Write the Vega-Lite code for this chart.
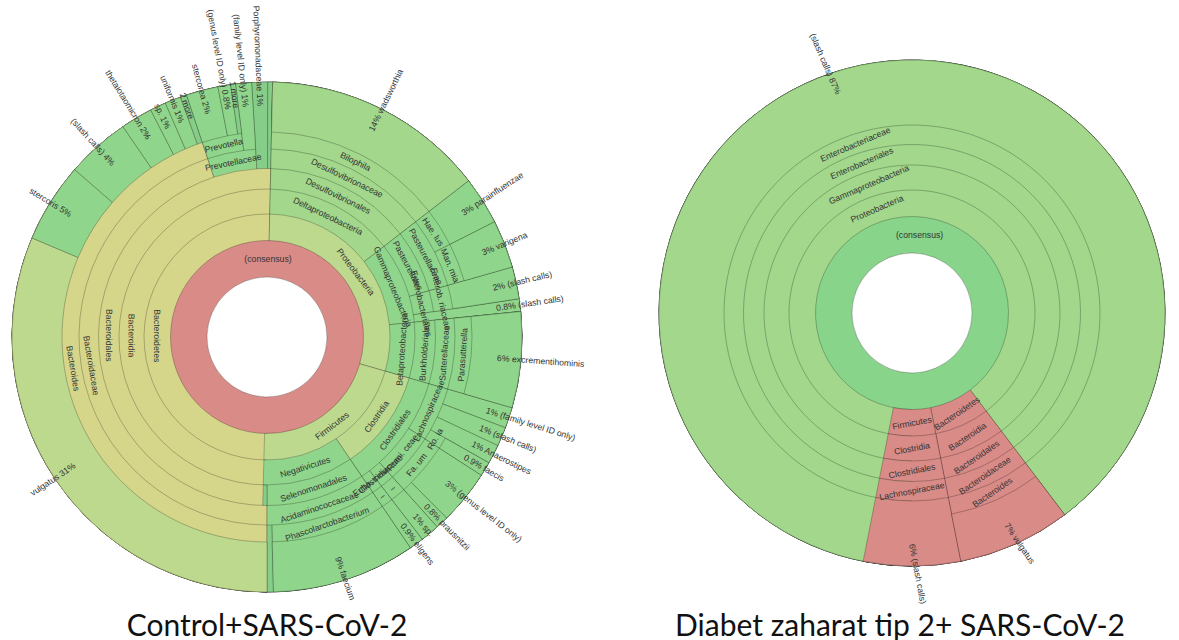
{
  "$schema": "https://vega.github.io/schema/vega-lite/v6.json",
  "background": "white",
  "padding": 0,
  "bounds": "flush",
  "spacing": 118,
  "config": {"view": {"stroke": null}},
  "datasets": {
    "ctrl": [
      {"o": 1, "d": 0, "leaf": false, "v": 99.3, "n": "(consensus)", "p": "", "k": "r"},
      {"o": 2, "d": 1, "leaf": false, "v": 49.8, "n": "Bacteroidetes", "p": "", "k": "y"},
      {"o": 3, "d": 2, "leaf": false, "v": 49.8, "n": "Bacteroidia", "p": "", "k": "y"},
      {"o": 4, "d": 3, "leaf": false, "v": 49.8, "n": "Bacteroidales", "p": "", "k": "y"},
      {"o": 5, "d": 4, "leaf": false, "v": 44.4, "n": "Bacteroidaceae", "p": "", "k": "y"},
      {"o": 6, "d": 5, "leaf": false, "v": 44.4, "n": "Bacteroides", "p": "", "k": "y"},
      {"o": 7, "d": 6, "leaf": true, "v": 31, "n": "vulgatus", "p": "31%", "k": "yg"},
      {"o": 8, "d": 6, "leaf": true, "v": 5, "n": "stercoris", "p": "5%", "k": "g"},
      {"o": 9, "d": 6, "leaf": true, "v": 4, "n": "(slash calls)", "p": "4%", "k": "g"},
      {"o": 10, "d": 6, "leaf": true, "v": 2, "n": "thetaiotaomicron", "p": "2%", "k": "g"},
      {"o": 11, "d": 6, "leaf": true, "v": 1, "n": "sp.", "p": "1%", "k": "g"},
      {"o": 12, "d": 6, "leaf": true, "v": 1, "n": "uniformis", "p": "1%", "k": "g"},
      {"o": 13, "d": 6, "leaf": true, "v": 0.4, "n": "2 more", "p": "", "k": "h"},
      {"o": 14, "d": 4, "leaf": false, "v": 4.1, "n": "Prevotellaceae", "p": "", "k": "g"},
      {"o": 15, "d": 5, "leaf": false, "v": 3.1, "n": "Prevotella", "p": "", "k": "g"},
      {"o": 16, "d": 6, "leaf": true, "v": 2, "n": "stercorea", "p": "2%", "k": "g"},
      {"o": 17, "d": 6, "leaf": true, "v": 0.8, "n": "(genus level ID only)", "p": "0.8%", "k": "g"},
      {"o": 18, "d": 6, "leaf": true, "v": 0.3, "n": "1 more", "p": "", "k": "h"},
      {"o": 19, "d": 5, "leaf": true, "v": 1, "n": "(family level ID only)", "p": "1%", "k": "g"},
      {"o": 20, "d": 4, "leaf": true, "v": 1, "n": "Porphyromonadaceae", "p": "1%", "k": "h"},
      {"o": 21, "d": 4, "leaf": true, "v": 0.3, "n": "", "p": "", "k": "h"},
      {"o": 22, "d": 1, "leaf": false, "v": 28.8, "n": "Proteobacteria", "p": "", "k": "yg"},
      {"o": 23, "d": 2, "leaf": false, "v": 14, "n": "Deltaproteobacteria", "p": "", "k": "lg"},
      {"o": 24, "d": 3, "leaf": false, "v": 14, "n": "Desulfovibrionales", "p": "", "k": "lg"},
      {"o": 25, "d": 4, "leaf": false, "v": 14, "n": "Desulfovibrionaceae", "p": "", "k": "lg"},
      {"o": 26, "d": 5, "leaf": false, "v": 14, "n": "Bilophila", "p": "", "k": "lg"},
      {"o": 27, "d": 6, "leaf": true, "v": 14, "n": "wadsworthia", "p": "14%", "k": "lg"},
      {"o": 28, "d": 2, "leaf": false, "v": 8.8, "n": "Gammaproteobacteria", "p": "", "k": "g"},
      {"o": 29, "d": 3, "leaf": false, "v": 6, "n": "Pasteurellales", "p": "", "k": "g"},
      {"o": 30, "d": 4, "leaf": false, "v": 6, "n": "Pasteurellaceae", "p": "", "k": "g"},
      {"o": 31, "d": 5, "leaf": false, "v": 3, "n": "Hae. lus", "p": "", "k": "g"},
      {"o": 32, "d": 6, "leaf": true, "v": 3, "n": "parainfluenzae", "p": "3%", "k": "g"},
      {"o": 33, "d": 5, "leaf": false, "v": 3, "n": "Man. mia", "p": "", "k": "g"},
      {"o": 34, "d": 6, "leaf": true, "v": 3, "n": "varigena", "p": "3%", "k": "g"},
      {"o": 35, "d": 3, "leaf": false, "v": 2, "n": "Enterobacteriales", "p": "", "k": "g"},
      {"o": 36, "d": 4, "leaf": false, "v": 2, "n": "Enterob. riaceae", "p": "", "k": "g"},
      {"o": 37, "d": 5, "leaf": true, "v": 2, "n": "(slash calls)", "p": "2%", "k": "g"},
      {"o": 38, "d": 3, "leaf": true, "v": 0.8, "n": "(slash calls)", "p": "0.8%", "k": "g"},
      {"o": 39, "d": 2, "leaf": false, "v": 6, "n": "Betaproteobacteria", "p": "", "k": "g"},
      {"o": 40, "d": 3, "leaf": false, "v": 6, "n": "Burkholderiales", "p": "", "k": "g"},
      {"o": 41, "d": 4, "leaf": false, "v": 6, "n": "Sutterellaceae", "p": "", "k": "g"},
      {"o": 42, "d": 5, "leaf": false, "v": 6, "n": "Parasutterella", "p": "", "k": "g"},
      {"o": 43, "d": 6, "leaf": true, "v": 6, "n": "excrementihominis", "p": "6%", "k": "g"},
      {"o": 44, "d": 1, "leaf": false, "v": 20.7, "n": "Firmicutes", "p": "", "k": "yg"},
      {"o": 45, "d": 2, "leaf": false, "v": 10.9, "n": "Clostridia", "p": "", "k": "yg"},
      {"o": 46, "d": 3, "leaf": false, "v": 10.9, "n": "Clostridiales", "p": "", "k": "g"},
      {"o": 47, "d": 4, "leaf": false, "v": 4.6, "n": "Lachnospiraceae", "p": "", "k": "g"},
      {"o": 48, "d": 5, "leaf": true, "v": 1.3, "n": "(family level ID only)", "p": "1%", "k": "g"},
      {"o": 49, "d": 5, "leaf": true, "v": 1.2, "n": "(slash calls)", "p": "1%", "k": "g"},
      {"o": 50, "d": 5, "leaf": true, "v": 1.2, "n": "Anaerostipes", "p": "1%", "k": "g"},
      {"o": 51, "d": 5, "leaf": false, "v": 0.9, "n": "Ro. ia", "p": "", "k": "g"},
      {"o": 52, "d": 6, "leaf": true, "v": 0.9, "n": "faecis", "p": "0.9%", "k": "g"},
      {"o": 53, "d": 4, "leaf": false, "v": 4.2, "n": "Rumi. ceae", "p": "", "k": "g"},
      {"o": 54, "d": 5, "leaf": false, "v": 4.2, "n": "Fa. um", "p": "", "k": "g"},
      {"o": 55, "d": 6, "leaf": true, "v": 3.4, "n": "(genus level ID only)", "p": "3%", "k": "g"},
      {"o": 56, "d": 6, "leaf": true, "v": 0.8, "n": "prausnitzii", "p": "0.8%", "k": "g"},
      {"o": 57, "d": 4, "leaf": false, "v": 1.2, "n": "Clostridiaceae", "p": "", "k": "g"},
      {"o": 58, "d": 5, "leaf": false, "v": 1.2, "n": "–", "p": "", "k": "g"},
      {"o": 59, "d": 6, "leaf": true, "v": 1.2, "n": "sp.", "p": "1%", "k": "g"},
      {"o": 60, "d": 4, "leaf": false, "v": 0.9, "n": "Euba. ceae", "p": "", "k": "g"},
      {"o": 61, "d": 5, "leaf": false, "v": 0.9, "n": "–", "p": "", "k": "g"},
      {"o": 62, "d": 6, "leaf": true, "v": 0.9, "n": "eligens", "p": "0.9%", "k": "g"},
      {"o": 63, "d": 2, "leaf": false, "v": 9.8, "n": "Negativicutes", "p": "", "k": "g"},
      {"o": 64, "d": 3, "leaf": false, "v": 9.4, "n": "Selenomonadales", "p": "", "k": "g"},
      {"o": 65, "d": 4, "leaf": false, "v": 9.4, "n": "Acidaminococcaceae", "p": "", "k": "g"},
      {"o": 66, "d": 5, "leaf": false, "v": 9, "n": "Phascolarctobacterium", "p": "", "k": "g"},
      {"o": 67, "d": 6, "leaf": true, "v": 9, "n": "faecium", "p": "9%", "k": "g"},
      {"o": 68, "d": 5, "leaf": true, "v": 0.4, "n": "", "p": "", "k": "h"},
      {"o": 69, "d": 3, "leaf": true, "v": 0.4, "n": "", "p": "", "k": "h"}
    ],
    "diab": [
      {"o": 1, "d": 0, "leaf": false, "v": 100, "n": "(consensus)", "p": "", "k": "g2"},
      {"o": 2, "d": 1, "leaf": false, "v": 87, "n": "Proteobacteria", "p": "", "k": "lg"},
      {"o": 3, "d": 2, "leaf": false, "v": 87, "n": "Gammaproteobacteria", "p": "", "k": "lg"},
      {"o": 4, "d": 3, "leaf": false, "v": 87, "n": "Enterobacteriales", "p": "", "k": "lg"},
      {"o": 5, "d": 4, "leaf": false, "v": 87, "n": "Enterobacteriaceae", "p": "", "k": "lg"},
      {"o": 6, "d": 5, "leaf": true, "v": 87, "n": "(slash calls)", "p": "87%", "k": "lg"},
      {"o": 7, "d": 1, "leaf": false, "v": 7, "n": "Bacteroidetes", "p": "", "k": "r"},
      {"o": 8, "d": 2, "leaf": false, "v": 7, "n": "Bacteroidia", "p": "", "k": "r"},
      {"o": 9, "d": 3, "leaf": false, "v": 7, "n": "Bacteroidales", "p": "", "k": "r"},
      {"o": 10, "d": 4, "leaf": false, "v": 7, "n": "Bacteroidaceae", "p": "", "k": "r"},
      {"o": 11, "d": 5, "leaf": false, "v": 7, "n": "Bacteroides", "p": "", "k": "r"},
      {"o": 12, "d": 6, "leaf": true, "v": 7, "n": "vulgatus", "p": "7%", "k": "r"},
      {"o": 13, "d": 1, "leaf": false, "v": 6, "n": "Firmicutes", "p": "", "k": "r"},
      {"o": 14, "d": 2, "leaf": false, "v": 6, "n": "Clostridia", "p": "", "k": "r"},
      {"o": 15, "d": 3, "leaf": false, "v": 6, "n": "Clostridiales", "p": "", "k": "r"},
      {"o": 16, "d": 4, "leaf": false, "v": 6, "n": "Lachnospiraceae", "p": "", "k": "r"},
      {"o": 17, "d": 5, "leaf": true, "v": 6, "n": "(slash calls)", "p": "6%", "k": "r"}
    ]
  },
  "hconcat": [
    {
      "width": 534,
      "height": 644,
      "data": {"name": "ctrl"},
      "title": {"text": "Control+SARS-CoV-2", "orient": "bottom", "anchor": "middle", "offset": -23, "baseline": "alphabetic", "font": "Lato", "fontSize": 30, "fontWeight": "normal", "color": "#111111"},
      "layer": [
        {"transform": [{"filter": "datum.d == 0"}, {"stack": "v", "groupby": [], "sort": [{"field": "o"}], "as": ["t0", "t1"]}],
         "mark": {"type": "arc", "innerRadius": 60, "outerRadius": 255, "stroke": "#000000", "strokeWidth": 0.8},
         "encoding": {"theta": {"field": "t0", "type": "quantitative", "stack": null, "scale": {"range": [3.14159265, 9.42477796], "nice": false}}, "theta2": {"field": "t1"},
           "fill": {"field": "k", "type": "nominal", "legend": null, "scale": {"domain": ["r", "y", "yg", "lg", "g", "g2", "h"], "range": ["#d98b87", "#d6d68b", "#bcd98e", "#a2d78c", "#8fd58b", "#87d48a", "#86cd89"]}},
           "fillOpacity": {"condition": {"test": "datum.d == 0", "value": 1}, "value": 0},
           "strokeOpacity": {"condition": {"test": "datum.d == 0", "value": 0.3}, "value": 0}}},
        {"transform": [{"filter": "datum.d == 1 || (datum.leaf && datum.d < 1)"}, {"stack": "v", "groupby": [], "sort": [{"field": "o"}], "as": ["t0", "t1"]}],
         "mark": {"type": "arc", "innerRadius": 96.5, "outerRadius": 255, "stroke": "#000000", "strokeWidth": 0.8},
         "encoding": {"theta": {"field": "t0", "type": "quantitative", "stack": null, "scale": {"range": [3.14159265, 9.42477796], "nice": false}}, "theta2": {"field": "t1"},
           "fill": {"field": "k", "type": "nominal", "legend": null, "scale": {"domain": ["r", "y", "yg", "lg", "g", "g2", "h"], "range": ["#d98b87", "#d6d68b", "#bcd98e", "#a2d78c", "#8fd58b", "#87d48a", "#86cd89"]}},
           "fillOpacity": {"condition": {"test": "datum.d == 1", "value": 1}, "value": 0},
           "strokeOpacity": {"condition": {"test": "datum.d == 1", "value": 0.3}, "value": 0}}},
        {"transform": [{"filter": "datum.d == 2 || (datum.leaf && datum.d < 2)"}, {"stack": "v", "groupby": [], "sort": [{"field": "o"}], "as": ["t0", "t1"]}],
         "mark": {"type": "arc", "innerRadius": 123, "outerRadius": 255, "stroke": "#000000", "strokeWidth": 0.8},
         "encoding": {"theta": {"field": "t0", "type": "quantitative", "stack": null, "scale": {"range": [3.14159265, 9.42477796], "nice": false}}, "theta2": {"field": "t1"},
           "fill": {"field": "k", "type": "nominal", "legend": null, "scale": {"domain": ["r", "y", "yg", "lg", "g", "g2", "h"], "range": ["#d98b87", "#d6d68b", "#bcd98e", "#a2d78c", "#8fd58b", "#87d48a", "#86cd89"]}},
           "fillOpacity": {"condition": {"test": "datum.d == 2", "value": 1}, "value": 0},
           "strokeOpacity": {"condition": {"test": "datum.d == 2", "value": 0.3}, "value": 0}}},
        {"transform": [{"filter": "datum.d == 3 || (datum.leaf && datum.d < 3)"}, {"stack": "v", "groupby": [], "sort": [{"field": "o"}], "as": ["t0", "t1"]}],
         "mark": {"type": "arc", "innerRadius": 148, "outerRadius": 255, "stroke": "#000000", "strokeWidth": 0.8},
         "encoding": {"theta": {"field": "t0", "type": "quantitative", "stack": null, "scale": {"range": [3.14159265, 9.42477796], "nice": false}}, "theta2": {"field": "t1"},
           "fill": {"field": "k", "type": "nominal", "legend": null, "scale": {"domain": ["r", "y", "yg", "lg", "g", "g2", "h"], "range": ["#d98b87", "#d6d68b", "#bcd98e", "#a2d78c", "#8fd58b", "#87d48a", "#86cd89"]}},
           "fillOpacity": {"condition": {"test": "datum.d == 3", "value": 1}, "value": 0},
           "strokeOpacity": {"condition": {"test": "datum.d == 3", "value": 0.3}, "value": 0}}},
        {"transform": [{"filter": "datum.d == 4 || (datum.leaf && datum.d < 4)"}, {"stack": "v", "groupby": [], "sort": [{"field": "o"}], "as": ["t0", "t1"]}],
         "mark": {"type": "arc", "innerRadius": 168.5, "outerRadius": 255, "stroke": "#000000", "strokeWidth": 0.8},
         "encoding": {"theta": {"field": "t0", "type": "quantitative", "stack": null, "scale": {"range": [3.14159265, 9.42477796], "nice": false}}, "theta2": {"field": "t1"},
           "fill": {"field": "k", "type": "nominal", "legend": null, "scale": {"domain": ["r", "y", "yg", "lg", "g", "g2", "h"], "range": ["#d98b87", "#d6d68b", "#bcd98e", "#a2d78c", "#8fd58b", "#87d48a", "#86cd89"]}},
           "fillOpacity": {"condition": {"test": "datum.d == 4", "value": 1}, "value": 0},
           "strokeOpacity": {"condition": {"test": "datum.d == 4", "value": 0.3}, "value": 0}}},
        {"transform": [{"filter": "datum.d == 5 || (datum.leaf && datum.d < 5)"}, {"stack": "v", "groupby": [], "sort": [{"field": "o"}], "as": ["t0", "t1"]}],
         "mark": {"type": "arc", "innerRadius": 188, "outerRadius": 255, "stroke": "#000000", "strokeWidth": 0.8},
         "encoding": {"theta": {"field": "t0", "type": "quantitative", "stack": null, "scale": {"range": [3.14159265, 9.42477796], "nice": false}}, "theta2": {"field": "t1"},
           "fill": {"field": "k", "type": "nominal", "legend": null, "scale": {"domain": ["r", "y", "yg", "lg", "g", "g2", "h"], "range": ["#d98b87", "#d6d68b", "#bcd98e", "#a2d78c", "#8fd58b", "#87d48a", "#86cd89"]}},
           "fillOpacity": {"condition": {"test": "datum.d == 5", "value": 1}, "value": 0},
           "strokeOpacity": {"condition": {"test": "datum.d == 5", "value": 0.3}, "value": 0}}},
        {"transform": [{"filter": "datum.d == 6 || (datum.leaf && datum.d < 6)"}, {"stack": "v", "groupby": [], "sort": [{"field": "o"}], "as": ["t0", "t1"]}],
         "mark": {"type": "arc", "innerRadius": 205, "outerRadius": 255, "stroke": "#000000", "strokeWidth": 0.8},
         "encoding": {"theta": {"field": "t0", "type": "quantitative", "stack": null, "scale": {"range": [3.14159265, 9.42477796], "nice": false}}, "theta2": {"field": "t1"},
           "fill": {"field": "k", "type": "nominal", "legend": null, "scale": {"domain": ["r", "y", "yg", "lg", "g", "g2", "h"], "range": ["#d98b87", "#d6d68b", "#bcd98e", "#a2d78c", "#8fd58b", "#87d48a", "#86cd89"]}},
           "fillOpacity": {"condition": {"test": "datum.d == 6", "value": 1}, "value": 0},
           "strokeOpacity": {"condition": {"test": "datum.d == 6", "value": 0.3}, "value": 0}}},
        {"transform": [{"filter": "datum.d == 0"}, {"stack": "v", "groupby": [], "sort": [{"field": "o"}], "as": ["t0", "t1"]}, {"joinaggregate": [{"op": "sum", "field": "v", "as": "tot"}]}, {"filter": "!datum.leaf"}, {"calculate": "(datum.t0 + datum.t1) / 2", "as": "tm"}, {"calculate": "(180 + 360 * datum.tm / datum.tot) % 360", "as": "deg"}, {"calculate": "datum.deg >= 90 && datum.deg <= 271 ? datum.deg - 180 : datum.deg", "as": "ang"}],
         "mark": {"type": "text", "radius": 78, "font": "Liberation Sans", "fontSize": 8.7, "fill": "#333333", "align": "center", "baseline": "middle"},
         "encoding": {"theta": {"field": "tm", "type": "quantitative", "scale": {"range": [3.14159265, 9.42477796], "nice": false}}, "text": {"field": "n"}, "angle": {"field": "ang", "type": "quantitative", "scale": {"domain": [-360, 360], "range": [-360, 360]}}}},
        {"transform": [{"filter": "datum.d == 1 || (datum.leaf && datum.d < 1)"}, {"stack": "v", "groupby": [], "sort": [{"field": "o"}], "as": ["t0", "t1"]}, {"joinaggregate": [{"op": "sum", "field": "v", "as": "tot"}]}, {"filter": "datum.d == 1 && !datum.leaf"}, {"calculate": "(datum.t0 + datum.t1) / 2", "as": "tm"}, {"calculate": "(180 + 360 * datum.tm / datum.tot) % 360", "as": "deg"}, {"calculate": "datum.deg >= 90 && datum.deg <= 271 ? datum.deg - 180 : datum.deg", "as": "ang"}],
         "mark": {"type": "text", "radius": 110, "font": "Liberation Sans", "fontSize": 8.7, "fill": "#333333", "align": "center", "baseline": "middle"},
         "encoding": {"theta": {"field": "tm", "type": "quantitative", "scale": {"range": [3.14159265, 9.42477796], "nice": false}}, "text": {"field": "n"}, "angle": {"field": "ang", "type": "quantitative", "scale": {"domain": [-360, 360], "range": [-360, 360]}}}},
        {"transform": [{"filter": "datum.d == 2 || (datum.leaf && datum.d < 2)"}, {"stack": "v", "groupby": [], "sort": [{"field": "o"}], "as": ["t0", "t1"]}, {"joinaggregate": [{"op": "sum", "field": "v", "as": "tot"}]}, {"filter": "datum.d == 2 && !datum.leaf"}, {"calculate": "(datum.t0 + datum.t1) / 2", "as": "tm"}, {"calculate": "(180 + 360 * datum.tm / datum.tot) % 360", "as": "deg"}, {"calculate": "datum.deg >= 90 && datum.deg <= 271 ? datum.deg - 180 : datum.deg", "as": "ang"}],
         "mark": {"type": "text", "radius": 135.5, "font": "Liberation Sans", "fontSize": 8.7, "fill": "#333333", "align": "center", "baseline": "middle"},
         "encoding": {"theta": {"field": "tm", "type": "quantitative", "scale": {"range": [3.14159265, 9.42477796], "nice": false}}, "text": {"field": "n"}, "angle": {"field": "ang", "type": "quantitative", "scale": {"domain": [-360, 360], "range": [-360, 360]}}}},
        {"transform": [{"filter": "datum.d == 3 || (datum.leaf && datum.d < 3)"}, {"stack": "v", "groupby": [], "sort": [{"field": "o"}], "as": ["t0", "t1"]}, {"joinaggregate": [{"op": "sum", "field": "v", "as": "tot"}]}, {"filter": "datum.d == 3 && !datum.leaf"}, {"calculate": "(datum.t0 + datum.t1) / 2", "as": "tm"}, {"calculate": "(180 + 360 * datum.tm / datum.tot) % 360", "as": "deg"}, {"calculate": "datum.deg >= 90 && datum.deg <= 271 ? datum.deg - 180 : datum.deg", "as": "ang"}],
         "mark": {"type": "text", "radius": 158, "font": "Liberation Sans", "fontSize": 8.7, "fill": "#333333", "align": "center", "baseline": "middle"},
         "encoding": {"theta": {"field": "tm", "type": "quantitative", "scale": {"range": [3.14159265, 9.42477796], "nice": false}}, "text": {"field": "n"}, "angle": {"field": "ang", "type": "quantitative", "scale": {"domain": [-360, 360], "range": [-360, 360]}}}},
        {"transform": [{"filter": "datum.d == 4 || (datum.leaf && datum.d < 4)"}, {"stack": "v", "groupby": [], "sort": [{"field": "o"}], "as": ["t0", "t1"]}, {"joinaggregate": [{"op": "sum", "field": "v", "as": "tot"}]}, {"filter": "datum.d == 4 && !datum.leaf"}, {"calculate": "(datum.t0 + datum.t1) / 2", "as": "tm"}, {"calculate": "(180 + 360 * datum.tm / datum.tot) % 360", "as": "deg"}, {"calculate": "datum.deg >= 90 && datum.deg <= 271 ? datum.deg - 180 : datum.deg", "as": "ang"}],
         "mark": {"type": "text", "radius": 178, "font": "Liberation Sans", "fontSize": 8.7, "fill": "#333333", "align": "center", "baseline": "middle"},
         "encoding": {"theta": {"field": "tm", "type": "quantitative", "scale": {"range": [3.14159265, 9.42477796], "nice": false}}, "text": {"field": "n"}, "angle": {"field": "ang", "type": "quantitative", "scale": {"domain": [-360, 360], "range": [-360, 360]}}}},
        {"transform": [{"filter": "datum.d == 5 || (datum.leaf && datum.d < 5)"}, {"stack": "v", "groupby": [], "sort": [{"field": "o"}], "as": ["t0", "t1"]}, {"joinaggregate": [{"op": "sum", "field": "v", "as": "tot"}]}, {"filter": "datum.d == 5 && !datum.leaf"}, {"calculate": "(datum.t0 + datum.t1) / 2", "as": "tm"}, {"calculate": "(180 + 360 * datum.tm / datum.tot) % 360", "as": "deg"}, {"calculate": "datum.deg >= 90 && datum.deg <= 271 ? datum.deg - 180 : datum.deg", "as": "ang"}],
         "mark": {"type": "text", "radius": 196.5, "font": "Liberation Sans", "fontSize": 8.7, "fill": "#333333", "align": "center", "baseline": "middle"},
         "encoding": {"theta": {"field": "tm", "type": "quantitative", "scale": {"range": [3.14159265, 9.42477796], "nice": false}}, "text": {"field": "n"}, "angle": {"field": "ang", "type": "quantitative", "scale": {"domain": [-360, 360], "range": [-360, 360]}}}},
        {"transform": [{"filter": "datum.leaf"}, {"stack": "v", "groupby": [], "sort": [{"field": "o"}], "as": ["t0", "t1"]}, {"joinaggregate": [{"op": "sum", "field": "v", "as": "tot"}]}, {"filter": "datum.n != ''"}, {"calculate": "(datum.t0 + datum.t1) / 2", "as": "tm"}, {"calculate": "(180 + 360 * datum.tm / datum.tot) % 360", "as": "deg"}, {"filter": "datum.deg < 180"}, {"calculate": "datum.deg - 90", "as": "ang"}, {"calculate": "datum.p != '' ? datum.p + '   ' + datum.n : datum.n", "as": "lbl"}],
         "mark": {"type": "text", "radius": 231, "font": "Liberation Sans", "fontSize": 8.7, "fill": "#333333", "align": "left", "baseline": "middle"},
         "encoding": {"theta": {"field": "tm", "type": "quantitative", "scale": {"range": [3.14159265, 9.42477796], "nice": false}}, "text": {"field": "lbl"}, "angle": {"field": "ang", "type": "quantitative", "scale": {"domain": [-360, 360], "range": [-360, 360]}}}},
        {"transform": [{"filter": "datum.leaf"}, {"stack": "v", "groupby": [], "sort": [{"field": "o"}], "as": ["t0", "t1"]}, {"joinaggregate": [{"op": "sum", "field": "v", "as": "tot"}]}, {"filter": "datum.n != ''"}, {"calculate": "(datum.t0 + datum.t1) / 2", "as": "tm"}, {"calculate": "(180 + 360 * datum.tm / datum.tot) % 360", "as": "deg"}, {"filter": "datum.deg >= 180"}, {"calculate": "datum.deg - 270", "as": "ang"}, {"calculate": "datum.p != '' ? datum.n + '   ' + datum.p : datum.n", "as": "lbl"}],
         "mark": {"type": "text", "radius": 231, "font": "Liberation Sans", "fontSize": 8.7, "fill": "#333333", "align": "right", "baseline": "middle"},
         "encoding": {"theta": {"field": "tm", "type": "quantitative", "scale": {"range": [3.14159265, 9.42477796], "nice": false}}, "text": {"field": "lbl"}, "angle": {"field": "ang", "type": "quantitative", "scale": {"domain": [-360, 360], "range": [-360, 360]}}}}
      ]
    },
    {
      "width": 520,
      "height": 596,
      "data": {"name": "diab"},
      "title": {"text": "Diabet zaharat tip 2+ SARS-CoV-2", "orient": "bottom", "anchor": "middle", "offset": 25, "dx": -12, "baseline": "alphabetic", "font": "Lato", "fontSize": 30, "fontWeight": "normal", "color": "#111111"},
      "layer": [
        {"transform": [{"filter": "datum.d == 0"}, {"stack": "v", "groupby": [], "sort": [{"field": "o"}], "as": ["t0", "t1"]}],
         "mark": {"type": "arc", "innerRadius": 60, "outerRadius": 253, "stroke": "#000000", "strokeWidth": 0.8},
         "encoding": {"theta": {"field": "t0", "type": "quantitative", "stack": null, "scale": {"range": [3.14159265, 9.42477796], "nice": false}}, "theta2": {"field": "t1"},
           "fill": {"field": "k", "type": "nominal", "legend": null, "scale": {"domain": ["r", "y", "yg", "lg", "g", "g2", "h"], "range": ["#d98b87", "#d6d68b", "#bcd98e", "#9fd68c", "#8fd58b", "#87d48a", "#86cd89"]}},
           "fillOpacity": {"condition": {"test": "datum.d == 0", "value": 1}, "value": 0},
           "strokeOpacity": {"condition": {"test": "datum.d == 0", "value": 0.3}, "value": 0}}},
        {"transform": [{"filter": "datum.d == 1 || (datum.leaf && datum.d < 1)"}, {"stack": "v", "groupby": [], "sort": [{"field": "o"}], "as": ["t0", "t1"]}],
         "mark": {"type": "arc", "innerRadius": 96.5, "outerRadius": 253, "stroke": "#000000", "strokeWidth": 0.8},
         "encoding": {"theta": {"field": "t0", "type": "quantitative", "stack": null, "scale": {"range": [3.14159265, 9.42477796], "nice": false}}, "theta2": {"field": "t1"},
           "fill": {"field": "k", "type": "nominal", "legend": null, "scale": {"domain": ["r", "y", "yg", "lg", "g", "g2", "h"], "range": ["#d98b87", "#d6d68b", "#bcd98e", "#9fd68c", "#8fd58b", "#87d48a", "#86cd89"]}},
           "fillOpacity": {"condition": {"test": "datum.d == 1", "value": 1}, "value": 0},
           "strokeOpacity": {"condition": {"test": "datum.d == 1", "value": 0.3}, "value": 0}}},
        {"transform": [{"filter": "datum.d == 2 || (datum.leaf && datum.d < 2)"}, {"stack": "v", "groupby": [], "sort": [{"field": "o"}], "as": ["t0", "t1"]}],
         "mark": {"type": "arc", "innerRadius": 123, "outerRadius": 253, "stroke": "#000000", "strokeWidth": 0.8},
         "encoding": {"theta": {"field": "t0", "type": "quantitative", "stack": null, "scale": {"range": [3.14159265, 9.42477796], "nice": false}}, "theta2": {"field": "t1"},
           "fill": {"field": "k", "type": "nominal", "legend": null, "scale": {"domain": ["r", "y", "yg", "lg", "g", "g2", "h"], "range": ["#d98b87", "#d6d68b", "#bcd98e", "#9fd68c", "#8fd58b", "#87d48a", "#86cd89"]}},
           "fillOpacity": {"condition": {"test": "datum.d == 2", "value": 1}, "value": 0},
           "strokeOpacity": {"condition": {"test": "datum.d == 2", "value": 0.3}, "value": 0}}},
        {"transform": [{"filter": "datum.d == 3 || (datum.leaf && datum.d < 3)"}, {"stack": "v", "groupby": [], "sort": [{"field": "o"}], "as": ["t0", "t1"]}],
         "mark": {"type": "arc", "innerRadius": 148, "outerRadius": 253, "stroke": "#000000", "strokeWidth": 0.8},
         "encoding": {"theta": {"field": "t0", "type": "quantitative", "stack": null, "scale": {"range": [3.14159265, 9.42477796], "nice": false}}, "theta2": {"field": "t1"},
           "fill": {"field": "k", "type": "nominal", "legend": null, "scale": {"domain": ["r", "y", "yg", "lg", "g", "g2", "h"], "range": ["#d98b87", "#d6d68b", "#bcd98e", "#9fd68c", "#8fd58b", "#87d48a", "#86cd89"]}},
           "fillOpacity": {"condition": {"test": "datum.d == 3", "value": 1}, "value": 0},
           "strokeOpacity": {"condition": {"test": "datum.d == 3", "value": 0.3}, "value": 0}}},
        {"transform": [{"filter": "datum.d == 4 || (datum.leaf && datum.d < 4)"}, {"stack": "v", "groupby": [], "sort": [{"field": "o"}], "as": ["t0", "t1"]}],
         "mark": {"type": "arc", "innerRadius": 168.5, "outerRadius": 253, "stroke": "#000000", "strokeWidth": 0.8},
         "encoding": {"theta": {"field": "t0", "type": "quantitative", "stack": null, "scale": {"range": [3.14159265, 9.42477796], "nice": false}}, "theta2": {"field": "t1"},
           "fill": {"field": "k", "type": "nominal", "legend": null, "scale": {"domain": ["r", "y", "yg", "lg", "g", "g2", "h"], "range": ["#d98b87", "#d6d68b", "#bcd98e", "#9fd68c", "#8fd58b", "#87d48a", "#86cd89"]}},
           "fillOpacity": {"condition": {"test": "datum.d == 4", "value": 1}, "value": 0},
           "strokeOpacity": {"condition": {"test": "datum.d == 4", "value": 0.3}, "value": 0}}},
        {"transform": [{"filter": "datum.d == 5 || (datum.leaf && datum.d < 5)"}, {"stack": "v", "groupby": [], "sort": [{"field": "o"}], "as": ["t0", "t1"]}],
         "mark": {"type": "arc", "innerRadius": 188, "outerRadius": 253, "stroke": "#000000", "strokeWidth": 0.8},
         "encoding": {"theta": {"field": "t0", "type": "quantitative", "stack": null, "scale": {"range": [3.14159265, 9.42477796], "nice": false}}, "theta2": {"field": "t1"},
           "fill": {"field": "k", "type": "nominal", "legend": null, "scale": {"domain": ["r", "y", "yg", "lg", "g", "g2", "h"], "range": ["#d98b87", "#d6d68b", "#bcd98e", "#9fd68c", "#8fd58b", "#87d48a", "#86cd89"]}},
           "fillOpacity": {"condition": {"test": "datum.d == 5", "value": 1}, "value": 0},
           "strokeOpacity": {"condition": {"test": "datum.d == 5", "value": 0.3}, "value": 0}}},
        {"transform": [{"filter": "datum.d == 6 || (datum.leaf && datum.d < 6)"}, {"stack": "v", "groupby": [], "sort": [{"field": "o"}], "as": ["t0", "t1"]}],
         "mark": {"type": "arc", "innerRadius": 205, "outerRadius": 253, "stroke": "#000000", "strokeWidth": 0.8},
         "encoding": {"theta": {"field": "t0", "type": "quantitative", "stack": null, "scale": {"range": [3.14159265, 9.42477796], "nice": false}}, "theta2": {"field": "t1"},
           "fill": {"field": "k", "type": "nominal", "legend": null, "scale": {"domain": ["r", "y", "yg", "lg", "g", "g2", "h"], "range": ["#d98b87", "#d6d68b", "#bcd98e", "#9fd68c", "#8fd58b", "#87d48a", "#86cd89"]}},
           "fillOpacity": {"condition": {"test": "datum.d == 6", "value": 1}, "value": 0},
           "strokeOpacity": {"condition": {"test": "datum.d == 6", "value": 0.3}, "value": 0}}},
        {"transform": [{"filter": "datum.d == 0"}, {"stack": "v", "groupby": [], "sort": [{"field": "o"}], "as": ["t0", "t1"]}, {"joinaggregate": [{"op": "sum", "field": "v", "as": "tot"}]}, {"filter": "!datum.leaf"}, {"calculate": "(datum.t0 + datum.t1) / 2", "as": "tm"}, {"calculate": "(180 + 360 * datum.tm / datum.tot) % 360", "as": "deg"}, {"calculate": "datum.deg >= 90 && datum.deg <= 271 ? datum.deg - 180 : datum.deg", "as": "ang"}],
         "mark": {"type": "text", "radius": 78, "font": "Liberation Sans", "fontSize": 8.7, "fill": "#333333", "align": "center", "baseline": "middle"},
         "encoding": {"theta": {"field": "tm", "type": "quantitative", "scale": {"range": [3.14159265, 9.42477796], "nice": false}}, "text": {"field": "n"}, "angle": {"field": "ang", "type": "quantitative", "scale": {"domain": [-360, 360], "range": [-360, 360]}}}},
        {"transform": [{"filter": "datum.d == 1 || (datum.leaf && datum.d < 1)"}, {"stack": "v", "groupby": [], "sort": [{"field": "o"}], "as": ["t0", "t1"]}, {"joinaggregate": [{"op": "sum", "field": "v", "as": "tot"}]}, {"filter": "datum.d == 1 && !datum.leaf"}, {"calculate": "(datum.t0 + datum.t1) / 2", "as": "tm"}, {"calculate": "(180 + 360 * datum.tm / datum.tot) % 360", "as": "deg"}, {"calculate": "datum.deg >= 90 && datum.deg <= 271 ? datum.deg - 180 : datum.deg", "as": "ang"}],
         "mark": {"type": "text", "radius": 110, "font": "Liberation Sans", "fontSize": 8.7, "fill": "#333333", "align": "center", "baseline": "middle"},
         "encoding": {"theta": {"field": "tm", "type": "quantitative", "scale": {"range": [3.14159265, 9.42477796], "nice": false}}, "text": {"field": "n"}, "angle": {"field": "ang", "type": "quantitative", "scale": {"domain": [-360, 360], "range": [-360, 360]}}}},
        {"transform": [{"filter": "datum.d == 2 || (datum.leaf && datum.d < 2)"}, {"stack": "v", "groupby": [], "sort": [{"field": "o"}], "as": ["t0", "t1"]}, {"joinaggregate": [{"op": "sum", "field": "v", "as": "tot"}]}, {"filter": "datum.d == 2 && !datum.leaf"}, {"calculate": "(datum.t0 + datum.t1) / 2", "as": "tm"}, {"calculate": "(180 + 360 * datum.tm / datum.tot) % 360", "as": "deg"}, {"calculate": "datum.deg >= 90 && datum.deg <= 271 ? datum.deg - 180 : datum.deg", "as": "ang"}],
         "mark": {"type": "text", "radius": 135.5, "font": "Liberation Sans", "fontSize": 8.7, "fill": "#333333", "align": "center", "baseline": "middle"},
         "encoding": {"theta": {"field": "tm", "type": "quantitative", "scale": {"range": [3.14159265, 9.42477796], "nice": false}}, "text": {"field": "n"}, "angle": {"field": "ang", "type": "quantitative", "scale": {"domain": [-360, 360], "range": [-360, 360]}}}},
        {"transform": [{"filter": "datum.d == 3 || (datum.leaf && datum.d < 3)"}, {"stack": "v", "groupby": [], "sort": [{"field": "o"}], "as": ["t0", "t1"]}, {"joinaggregate": [{"op": "sum", "field": "v", "as": "tot"}]}, {"filter": "datum.d == 3 && !datum.leaf"}, {"calculate": "(datum.t0 + datum.t1) / 2", "as": "tm"}, {"calculate": "(180 + 360 * datum.tm / datum.tot) % 360", "as": "deg"}, {"calculate": "datum.deg >= 90 && datum.deg <= 271 ? datum.deg - 180 : datum.deg", "as": "ang"}],
         "mark": {"type": "text", "radius": 158, "font": "Liberation Sans", "fontSize": 8.7, "fill": "#333333", "align": "center", "baseline": "middle"},
         "encoding": {"theta": {"field": "tm", "type": "quantitative", "scale": {"range": [3.14159265, 9.42477796], "nice": false}}, "text": {"field": "n"}, "angle": {"field": "ang", "type": "quantitative", "scale": {"domain": [-360, 360], "range": [-360, 360]}}}},
        {"transform": [{"filter": "datum.d == 4 || (datum.leaf && datum.d < 4)"}, {"stack": "v", "groupby": [], "sort": [{"field": "o"}], "as": ["t0", "t1"]}, {"joinaggregate": [{"op": "sum", "field": "v", "as": "tot"}]}, {"filter": "datum.d == 4 && !datum.leaf"}, {"calculate": "(datum.t0 + datum.t1) / 2", "as": "tm"}, {"calculate": "(180 + 360 * datum.tm / datum.tot) % 360", "as": "deg"}, {"calculate": "datum.deg >= 90 && datum.deg <= 271 ? datum.deg - 180 : datum.deg", "as": "ang"}],
         "mark": {"type": "text", "radius": 178, "font": "Liberation Sans", "fontSize": 8.7, "fill": "#333333", "align": "center", "baseline": "middle"},
         "encoding": {"theta": {"field": "tm", "type": "quantitative", "scale": {"range": [3.14159265, 9.42477796], "nice": false}}, "text": {"field": "n"}, "angle": {"field": "ang", "type": "quantitative", "scale": {"domain": [-360, 360], "range": [-360, 360]}}}},
        {"transform": [{"filter": "datum.d == 5 || (datum.leaf && datum.d < 5)"}, {"stack": "v", "groupby": [], "sort": [{"field": "o"}], "as": ["t0", "t1"]}, {"joinaggregate": [{"op": "sum", "field": "v", "as": "tot"}]}, {"filter": "datum.d == 5 && !datum.leaf"}, {"calculate": "(datum.t0 + datum.t1) / 2", "as": "tm"}, {"calculate": "(180 + 360 * datum.tm / datum.tot) % 360", "as": "deg"}, {"calculate": "datum.deg >= 90 && datum.deg <= 271 ? datum.deg - 180 : datum.deg", "as": "ang"}],
         "mark": {"type": "text", "radius": 196.5, "font": "Liberation Sans", "fontSize": 8.7, "fill": "#333333", "align": "center", "baseline": "middle"},
         "encoding": {"theta": {"field": "tm", "type": "quantitative", "scale": {"range": [3.14159265, 9.42477796], "nice": false}}, "text": {"field": "n"}, "angle": {"field": "ang", "type": "quantitative", "scale": {"domain": [-360, 360], "range": [-360, 360]}}}},
        {"transform": [{"filter": "datum.leaf"}, {"stack": "v", "groupby": [], "sort": [{"field": "o"}], "as": ["t0", "t1"]}, {"joinaggregate": [{"op": "sum", "field": "v", "as": "tot"}]}, {"filter": "datum.n != ''"}, {"calculate": "(datum.t0 + datum.t1) / 2", "as": "tm"}, {"calculate": "(180 + 360 * datum.tm / datum.tot) % 360", "as": "deg"}, {"filter": "datum.deg < 180"}, {"calculate": "datum.deg - 90", "as": "ang"}, {"calculate": "datum.p != '' ? datum.p + '   ' + datum.n : datum.n", "as": "lbl"}],
         "mark": {"type": "text", "radius": 231, "font": "Liberation Sans", "fontSize": 8.7, "fill": "#333333", "align": "left", "baseline": "middle"},
         "encoding": {"theta": {"field": "tm", "type": "quantitative", "scale": {"range": [3.14159265, 9.42477796], "nice": false}}, "text": {"field": "lbl"}, "angle": {"field": "ang", "type": "quantitative", "scale": {"domain": [-360, 360], "range": [-360, 360]}}}},
        {"transform": [{"filter": "datum.leaf"}, {"stack": "v", "groupby": [], "sort": [{"field": "o"}], "as": ["t0", "t1"]}, {"joinaggregate": [{"op": "sum", "field": "v", "as": "tot"}]}, {"filter": "datum.n != ''"}, {"calculate": "(datum.t0 + datum.t1) / 2", "as": "tm"}, {"calculate": "(180 + 360 * datum.tm / datum.tot) % 360", "as": "deg"}, {"filter": "datum.deg >= 180"}, {"calculate": "datum.deg - 270", "as": "ang"}, {"calculate": "datum.p != '' ? datum.n + '   ' + datum.p : datum.n", "as": "lbl"}],
         "mark": {"type": "text", "radius": 231, "font": "Liberation Sans", "fontSize": 8.7, "fill": "#333333", "align": "right", "baseline": "middle"},
         "encoding": {"theta": {"field": "tm", "type": "quantitative", "scale": {"range": [3.14159265, 9.42477796], "nice": false}}, "text": {"field": "lbl"}, "angle": {"field": "ang", "type": "quantitative", "scale": {"domain": [-360, 360], "range": [-360, 360]}}}}
      ]
    }
  ]
}
